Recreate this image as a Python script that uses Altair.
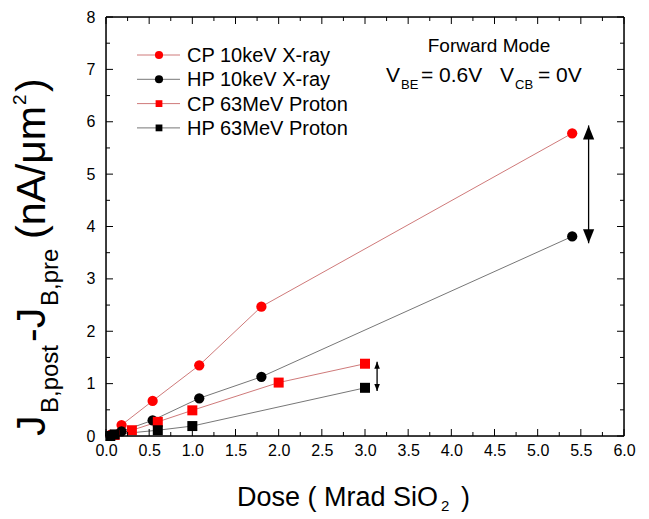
import altair as alt
import pandas as pd

FONT = "Liberation Sans"

# ---------------- data ----------------
series = ["CP 10keV X-ray", "HP 10keV X-ray", "CP 63MeV Proton", "HP 63MeV Proton"]

cp_xray_dose = [0.05, 0.18, 0.54, 1.08, 1.8, 5.4]
cp_xray_val = [0.02, 0.21, 0.67, 1.35, 2.47, 5.78]

hp_xray_dose = [0.05, 0.18, 0.54, 1.08, 1.8, 5.4]
hp_xray_val = [0.01, 0.09, 0.30, 0.72, 1.13, 3.81]

cp_proton_dose = [0.1, 0.3, 0.6, 1.0, 2.0, 3.0]
cp_proton_val = [0.02, 0.11, 0.27, 0.49, 1.02, 1.38]

hp_proton_dose = [0.05, 0.1, 0.6, 1.0, 3.0]
hp_proton_val = [0.0, 0.03, 0.11, 0.19, 0.92]

marker_colors = ["#ff0000", "#000000", "#ff0000", "#000000"]
line_colors = ["#cf7a7a", "#777777", "#cf7a7a", "#777777"]
legend_shapes = ["circle", "circle", "square", "square"]

x_major = [i * 0.5 for i in range(13)]
x_minor = [0.25 + i * 0.5 for i in range(12)]
y_major = list(range(9))
y_minor = [0.5 + i for i in range(8)]

arrow_dose = [5.59, 3.14]
arrow_low = [3.68, 0.86]
arrow_high = [5.93, 1.42]

# ---------------- frames ----------------
doses = [cp_xray_dose, hp_xray_dose, cp_proton_dose, hp_proton_dose]
vals = [cp_xray_val, hp_xray_val, cp_proton_val, hp_proton_val]
rows = []
for name, d, v in zip(series, doses, vals):
    for i, (a, b) in enumerate(zip(d, v)):
        rows.append({"series": name, "dose": a, "value": b, "order": i})
df = pd.DataFrame(rows)

W, H = 518, 419
xscale = alt.Scale(domain=[0, 6], nice=False, zero=False)
yscale = alt.Scale(domain=[0, 8], nice=False, zero=False)

x_axis = alt.Axis(values=x_major, format=".1f", labelFontSize=16, labelPadding=6,
                  ticks=False, tickSize=0, domain=False, grid=False, title=None,
                  labelColor="black", labelFont=FONT, labelFlush=False,
                  labelOverlap=False, labelBound=False)
y_axis = alt.Axis(values=y_major, format="d", labelFontSize=16, labelPadding=11,
                  ticks=False, tickSize=0, domain=False, grid=False, title=None,
                  labelColor="black", labelFont=FONT, labelFlush=False,
                  labelOverlap=False, labelBound=False)


def X(field):
    return alt.X(field, scale=xscale, axis=x_axis)


def Y(field):
    return alt.Y(field, scale=yscale, axis=y_axis)


lines = alt.Chart(df).mark_line(strokeWidth=1).encode(
    x=X("dose:Q"),
    y=Y("value:Q"),
    stroke=alt.Stroke("series:N", scale=alt.Scale(domain=series, range=line_colors), legend=None),
    detail="series:N",
    order="order:Q",
)

pt_color = alt.Color("series:N", scale=alt.Scale(domain=series, range=marker_colors), legend=None)

circles = alt.Chart(df).transform_filter(
    alt.FieldOneOfPredicate(field="series", oneOf=series[:2])
).mark_point(shape="circle", filled=True, size=105, opacity=1, strokeWidth=0).encode(
    x=X("dose:Q"), y=Y("value:Q"), color=pt_color,
)

squares = alt.Chart(df).transform_filter(
    alt.FieldOneOfPredicate(field="series", oneOf=series[2:])
).mark_point(shape="square", filled=True, size=100, opacity=1, strokeWidth=0).encode(
    x=X("dose:Q"), y=Y("value:Q"), color=pt_color,
)

layers = [lines, circles, squares]


# ---------------- inward ticks ----------------
def xticks(values, length):
    d = pd.DataFrame({"dose": values})
    bottom = alt.Chart(d).mark_rule(color="black", strokeWidth=1).encode(
        x=X("dose:Q"), y=alt.value(H), y2=alt.value(H - length))
    top = alt.Chart(d).mark_rule(color="black", strokeWidth=1).encode(
        x=X("dose:Q"), y=alt.value(0), y2=alt.value(length))
    return [bottom, top]


def yticks(values, length):
    d = pd.DataFrame({"value": values})
    left = alt.Chart(d).mark_rule(color="black", strokeWidth=1).encode(
        y=Y("value:Q"), x=alt.value(0), x2=alt.value(length))
    right = alt.Chart(d).mark_rule(color="black", strokeWidth=1).encode(
        y=Y("value:Q"), x=alt.value(W), x2=alt.value(W - length))
    return [left, right]


layers += xticks(x_major, 7) + xticks(x_minor, 4) + yticks(y_major, 7) + yticks(y_minor, 4)

# frame
frame_df = pd.DataFrame({"t": ["frame"]})
layers.append(alt.Chart(frame_df).mark_rule(color="black", strokeWidth=1.5).encode(
    x=alt.value(0), x2=alt.value(W), y=alt.value(0)))
layers.append(alt.Chart(frame_df).mark_rule(color="black", strokeWidth=1.5).encode(
    x=alt.value(0), x2=alt.value(W), y=alt.value(H)))
layers.append(alt.Chart(frame_df).mark_rule(color="black", strokeWidth=1.5).encode(
    x=alt.value(0), y=alt.value(0), y2=alt.value(H)))
layers.append(alt.Chart(frame_df).mark_rule(color="black", strokeWidth=1.5).encode(
    x=alt.value(W), y=alt.value(0), y2=alt.value(H)))

# ---------------- arrows ----------------
up_head = "M0,0L-0.4,1L0.4,1Z"
down_head = "M0,0L-0.4,-1L0.4,-1Z"
head_sizes = [784, 196]
for xd, lo, hi, hs in zip(arrow_dose, arrow_low, arrow_high, head_sizes):
    ad = pd.DataFrame({"dose": [xd], "value": [lo], "hi": [hi]})
    layers.append(alt.Chart(ad).mark_rule(color="black", strokeWidth=1.3).encode(
        x=X("dose:Q"), y=Y("value:Q"), y2="hi:Q"))
    layers.append(alt.Chart(ad).mark_point(shape=up_head, filled=True, color="black",
                                           size=hs, opacity=1, strokeWidth=0).encode(
        x=X("dose:Q"), y=Y("hi:Q")))
    layers.append(alt.Chart(ad).mark_point(shape=down_head, filled=True, color="black",
                                           size=hs, opacity=1, strokeWidth=0).encode(
        x=X("dose:Q"), y=Y("value:Q")))

# ---------------- legend ----------------
for i, (name, mc, lc, shp) in enumerate(zip(series, marker_colors, line_colors, legend_shapes)):
    cy = 38 + 24.3 * i
    one = pd.DataFrame({"t": [name]})
    layers.append(alt.Chart(one).mark_rule(color=lc, strokeWidth=1).encode(
        x=alt.value(31), x2=alt.value(74), y=alt.value(cy)))
    layers.append(alt.Chart(one).mark_point(shape=shp, filled=True, color=mc, opacity=1,
                                            strokeWidth=0, size=66 if shp == "circle" else 46).encode(
        x=alt.value(53), y=alt.value(cy)))
    layers.append(alt.Chart(one).mark_text(align="left", baseline="middle", fontSize=20,
                                           font=FONT, color="black").encode(
        text="t:N", x=alt.value(81), y=alt.value(cy + 1)))


# ---------------- text helpers ----------------
def label(text, x, y, size, angle=0, align="left"):
    one = pd.DataFrame({"t": [text]})
    kw = dict(align=align, baseline="alphabetic", fontSize=size, font=FONT, color="black")
    if angle:
        kw["angle"] = angle
    return alt.Chart(one).mark_text(**kw).encode(text="t:N", x=alt.value(x), y=alt.value(y))


# annotation
layers.append(label("Forward Mode", 383, 35, 19, align="center"))
layers.append(label("V", 280, 65, 21))
layers.append(label("BE", 295, 72, 13))
layers.append(label("= 0.6V", 315, 65, 21))
layers.append(label("V", 394, 65, 21))
layers.append(label("CB", 409, 72, 13))
layers.append(label("= 0V", 432, 65, 21))

# x title
layers.append(label("Dose ( Mrad SiO", 131, 489, 27))
layers.append(label("2", 335, 494, 15))
layers.append(label(")", 355, 489, 27))

# y title (rotated, reading bottom to top)
layers.append(label("J", -61, 419, 41, angle=270))
layers.append(label("B,post", -48, 396, 24, angle=270))
layers.append(label("-J", -61, 325, 41, angle=270))
layers.append(label("B,pre", -48, 289, 24, angle=270))
layers.append(label("(nA/\u03bcm", -61, 222, 41, angle=270))
layers.append(label("2", -80, 88, 19, angle=270))
layers.append(label(")", -61, 75, 41, angle=270))

chart = alt.layer(*layers).properties(
    width=W, height=H,
    autosize=alt.AutoSizeParams(type="none"),
    padding={"left": 98, "top": 9, "right": 15, "bottom": 80},
    background="white",
).configure_view(stroke=None).configure(font=FONT)

chart.save("out.html", embed_options={"renderer": "svg", "actions": False})
